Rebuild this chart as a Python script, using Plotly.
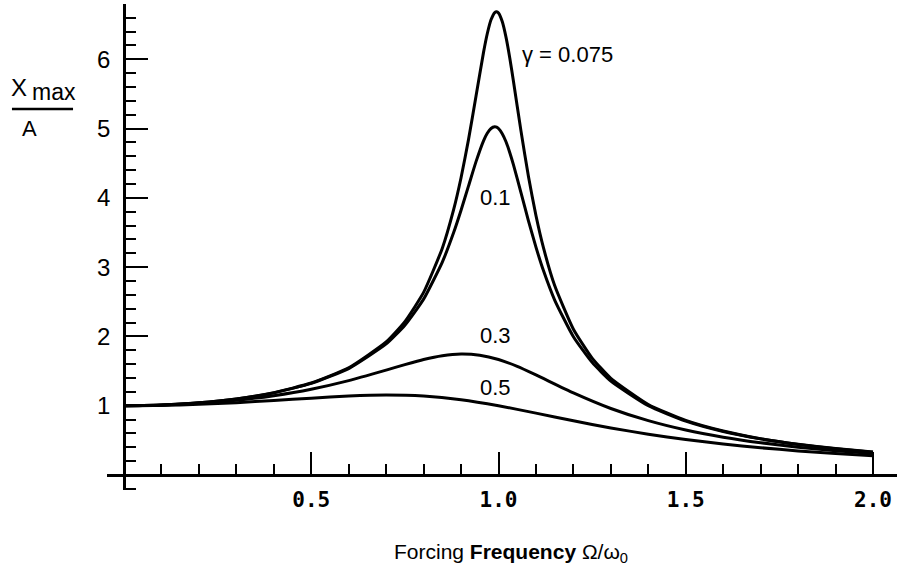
import plotly.graph_objects as go

# Frequency ratio grids (Omega / omega_0)
x_fine = [0.0, 0.1, 0.2, 0.3, 0.4, 0.5, 0.6, 0.7, 0.75, 0.8, 0.85, 0.88, 0.9, 0.92, 0.94,
          0.96, 0.97, 0.98, 0.99, 0.995, 1.0, 1.01, 1.02, 1.03, 1.04, 1.06, 1.08, 1.1, 1.12,
          1.15, 1.2, 1.25, 1.3, 1.4, 1.5, 1.6, 1.7, 1.8, 1.9, 2.0]
x_mid = [0.0, 0.1, 0.2, 0.3, 0.4, 0.5, 0.6, 0.7, 0.75, 0.8, 0.85, 0.9, 0.95, 1.0, 1.05,
         1.1, 1.2, 1.3, 1.4, 1.5, 1.6, 1.7, 1.8, 1.9, 2.0]
x_coarse = [0.0, 0.1, 0.2, 0.3, 0.4, 0.5, 0.6, 0.7, 0.8, 0.9, 1.0, 1.1, 1.2, 1.3, 1.4,
            1.5, 1.6, 1.7, 1.8, 1.9, 2.0]

y_g0075 = [1.0, 1.010, 1.041, 1.098, 1.188, 1.327, 1.547, 1.921, 2.214, 2.635, 3.274, 3.826,
           4.290, 4.843, 5.469, 6.099, 6.368, 6.569, 6.674, 6.685, 6.667, 6.543, 6.319, 6.022,
           5.680, 4.966, 4.306, 3.744, 3.280, 2.734, 2.104, 1.687, 1.395, 1.018, 0.787, 0.634,
           0.524, 0.443, 0.381, 0.332]
y_g01 = [1.0, 1.010, 1.041, 1.097, 1.185, 1.322, 1.536, 1.891, 2.162, 2.538, 3.073, 3.495,
         3.821, 4.172, 4.522, 4.822, 4.931, 5.001, 5.025, 5.019, 5.000, 4.926, 4.809, 4.655,
         4.476, 4.075, 3.668, 3.288, 2.950, 2.525, 1.995, 1.625, 1.356, 1.000, 0.778, 0.628,
         0.521, 0.441, 0.379, 0.330]
y_g03 = [1.0, 1.008, 1.034, 1.078, 1.145, 1.238, 1.362, 1.514, 1.593, 1.667, 1.722, 1.747,
         1.729, 1.667, 1.567, 1.444, 1.185, 0.960, 0.784, 0.649, 0.546, 0.466, 0.402, 0.351,
         0.310]
y_g05 = [1.0, 1.005, 1.020, 1.044, 1.075, 1.109, 1.140, 1.155, 1.140, 1.087, 1.000, 0.893,
         0.782, 0.679, 0.589, 0.512, 0.448, 0.393, 0.348, 0.310, 0.277]

curve_labels = ["γ = 0.075", "0.1", "0.3", "0.5"]
label_x = [1.057, 0.991, 0.993, 0.993]
label_y = [6.075, 4.01, 2.006, 1.263]
label_anchor = ["left", "center", "center", "center"]

x_tickvals = [0.5, 1.0, 1.5, 2.0]
x_ticktext = ["0.5", "1.0", "1.5", "2.0"]
y_tickvals = [1, 2, 3, 4, 5, 6]
y_ticktext = ["1", "2", "3", "4", "5", "6"]

SANS = "Arial, Liberation Sans, Helvetica"

fig = go.Figure()
for xs, ys in [(x_fine, y_g0075), (x_fine, y_g01), (x_mid, y_g03), (x_coarse, y_g05)]:
    fig.add_trace(go.Scatter(
        x=xs, y=ys, mode="lines",
        line=dict(color="black", width=3, shape="spline", smoothing=0.5),
        showlegend=False, hoverinfo="skip",
    ))

for txt, lx, ly, anc in zip(curve_labels, label_x, label_y, label_anchor):
    fig.add_annotation(x=lx, y=ly, text=txt, showarrow=False, xanchor=anc, yanchor="middle",
                       font=dict(family=SANS, size=22, color="black"))

# y-axis title: X_max over A (paper coordinates, outside the plot area)
fig.add_annotation(xref="paper", yref="paper", x=-0.112, y=0.8282, text="X",
                   showarrow=False, xanchor="center", yanchor="middle",
                   font=dict(family=SANS, size=24, color="black"))
fig.add_annotation(xref="paper", yref="paper", x=-0.0665, y=0.818, text="max",
                   showarrow=False, xanchor="center", yanchor="middle",
                   font=dict(family=SANS, size=23, color="black"))
fig.add_shape(type="line", xref="paper", yref="paper", x0=-0.1203, x1=-0.043,
              y0=0.784, y1=0.784, line=dict(color="black", width=2.5))
fig.add_annotation(xref="paper", yref="paper", x=-0.0975, y=0.7428, text="A",
                   showarrow=False, xanchor="center", yanchor="middle",
                   font=dict(family=SANS, size=22, color="black"))

# x-axis title
fig.add_annotation(xref="paper", yref="paper", x=0.5114, y=-0.1296,
                   text="Forcing <b>Frequency</b> Ω/ω<sub>0</sub>",
                   showarrow=False, xanchor="center", yanchor="middle",
                   font=dict(family=SANS, size=21, color="black"))

fig.update_layout(
    width=897, height=571,
    margin=dict(l=107, r=0, t=4, b=81),
    paper_bgcolor="white", plot_bgcolor="white",
    xaxis=dict(
        range=[-0.0454, 2.0641], anchor="free", position=0.0309,
        showgrid=False, zeroline=False,
        showline=True, linecolor="black", linewidth=2.5,
        tickmode="array", tickvals=x_tickvals, ticktext=x_ticktext,
        ticks="inside", ticklen=22, tickwidth=1.5, tickcolor="black",
        ticklabelstandoff=5,
        tickfont=dict(family="DejaVu Sans Mono, Liberation Mono", size=21, color="black",
                      weight="bold"),
        minor=dict(dtick=0.1, tick0=0, ticks="inside", ticklen=10, tickwidth=1.5,
                   tickcolor="black"),
    ),
    yaxis=dict(
        range=[-0.2165, 6.797], anchor="free", position=0.02152,
        showgrid=False, zeroline=False,
        showline=True, linecolor="black", linewidth=2.5,
        tickmode="array", tickvals=y_tickvals, ticktext=y_ticktext,
        ticks="inside", ticklen=22, tickwidth=1.5, tickcolor="black",
        ticklabelstandoff=8,
        tickfont=dict(family=SANS, size=24, color="black"),
        minor=dict(dtick=0.2, tick0=0, ticks="inside", ticklen=10, tickwidth=1.5,
                   tickcolor="black"),
    ),
)

fig.write_html("out.html",
               config={"displayModeBar": False},
               post_script="document.body.style.margin='0';document.body.style.overflow='hidden';")
